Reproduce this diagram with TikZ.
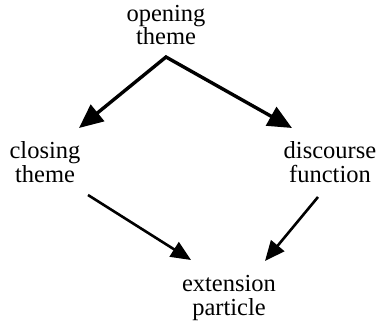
\documentclass[tikz,border=0pt]{standalone}
\usepackage{fontspec}
\setmainfont{Liberation Serif}
\usetikzlibrary{arrows.meta}
\tikzset{
  lbl/.style={align=center, inner sep=0pt, font=\fontsize{24.5}{23.5}\selectfont},
  bighead/.tip={Triangle[length=24pt,width=21pt]},
  bigline/.style={line width=3.4pt, line join=miter},
  smallarrow/.style={line width=2.6pt, -{Triangle[length=20pt,width=17pt]}}
}
\begin{document}
\begin{tikzpicture}[x=1pt,y=-1pt]
\useasboundingbox (0,0) rectangle (378,321);
\node[lbl] (open) at (166,25) {opening\\theme};
\node[lbl] (closing) at (45,162) {closing\\theme};
\node[lbl] (disc) at (330,162) {discourse\\function};
\node[lbl] (ext) at (229,298) {extension\\particle};
\coordinate (apex) at (166,57);
\coordinate (tipL) at (79,128);
\coordinate (tipR) at (292,128);
\coordinate (startLL) at (88,195);
\coordinate (tipLL) at (191,260);
\coordinate (startLR) at (318,197);
\coordinate (tipLR) at (265,261);
\draw[bigline, bighead-bighead] (tipL) -- (apex) -- (tipR);
\draw[smallarrow] (startLL) -- (tipLL);
\draw[smallarrow] (startLR) -- (tipLR);
\end{tikzpicture}
\end{document}
